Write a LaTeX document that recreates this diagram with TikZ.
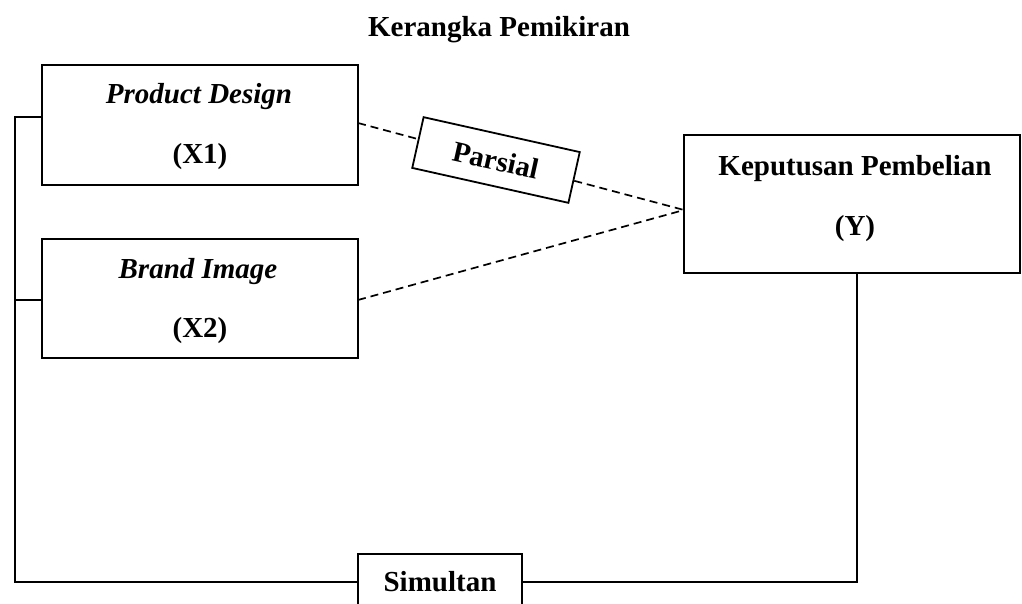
\documentclass[tikz,border=0pt]{standalone}
\usepackage{fontspec}
\setmainfont{Liberation Serif}
\begin{document}
\begin{tikzpicture}[x=1pt,y=-1pt,
  txt/.style={font=\fontsize{29}{33}\selectfont\bfseries},
  box/.style={draw,line width=1.8pt,rectangle,inner sep=0pt},
  lbl/.style={txt,anchor=base,inner sep=0pt},
  ilbl/.style={font=\fontsize{29}{33}\selectfont\bfseries\itshape,anchor=base,inner sep=0pt},
  conn/.style={line width=1.8pt},
  dconn/.style={line width=1.7pt,dash pattern=on 8pt off 5pt}]
\useasboundingbox (0,0) rectangle (1022,604);
\node[lbl] (title) at (499,37) {Kerangka Pemikiran};
% boxes
\node[box,minimum width=316pt,minimum height=120pt] (x1) at (200,125) {};
\node[box,minimum width=316pt,minimum height=119pt] (x2) at (200,298.5) {};
\node[box,minimum width=336pt,minimum height=138pt] (y) at (852,204) {};
\node[ilbl] (x1a) at (199,104) {Product Design};
\node[lbl] (x1b) at (200,164) {(X1)};
\node[ilbl] (x2a) at (198,278) {Brand Image};
\node[lbl] (x2b) at (200,337) {(X2)};
\node[lbl] (ya) at (855,176) {Keputusan Pembelian};
\node[lbl] (yb) at (855,235) {(Y)};
% parsial
\node[box,txt,minimum width=160pt,minimum height=52pt,rotate=-12.6] (parsial) at (496,160) {Parsial};
% simultan
\node[box,minimum width=164pt,minimum height=80pt,anchor=north] (sim) at (440,553) {};
\node[lbl] (simt) at (440,591) {Simultan};
% coordinates
\coordinate (yin) at (684,210);
\coordinate (x1out) at (358,123);
\coordinate (x2out) at (358,300);
\coordinate (lt) at (15,117);
\coordinate (lm) at (15,300);
\coordinate (lb) at (15,582);
\coordinate (rb) at (857,582);
% dashed
\draw[dconn] (x1out) -- (parsial);
\draw[dconn] (parsial) -- (yin);
\draw[dconn] (x2out) -- (yin);
% bracket
\draw[conn] (x1.west |- lt) -- (lt) -- (lb) -- (sim.west |- lb);
\draw[conn] (x2.west |- lm) -- (lm);
\draw[conn] (sim.east |- rb) -- (rb) -- (y.south -| rb);
\end{tikzpicture}
\end{document}
